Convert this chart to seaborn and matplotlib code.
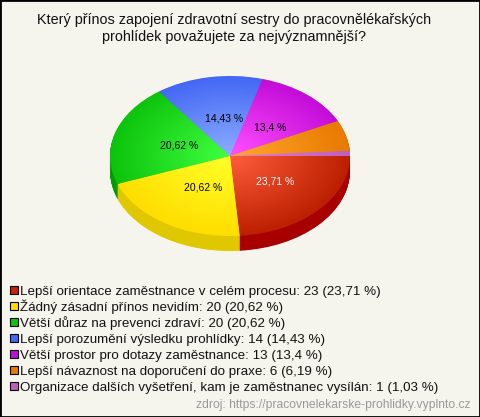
import matplotlib
matplotlib.use('Agg')
import numpy as np
import matplotlib.pyplot as plt
import seaborn as sns
from matplotlib.patches import Rectangle

names = ['Lepší orientace zaměstnance v celém procesu',
         'Žádný zásadní přínos nevidím',
         'Větší důraz na prevenci zdraví',
         'Lepší porozumění výsledku prohlídky',
         'Větší prostor pro dotazy zaměstnance',
         'Lepší návaznost na doporučení do praxe',
         'Organizace dalších vyšetření, kam je zaměstnanec vysílán']
counts = [23, 20, 20, 14, 13, 6, 1]
percents = ['23,71', '20,62', '20,62', '14,43', '13,4', '6,19', '1,03']
pie_labels = ['23,71 %', '20,62 %', '20,62 %', '14,43 %', '13,4 %', '', '']
label_colors = ['white', 'black', 'black', 'black', 'black', 'black', 'black']

title = 'Který přínos zapojení zdravotní sestry do pracovnělékařských\nprohlídek považujete za nejvýznamnější?'
source = 'zdroj: https://pracovnelekarske-prohlidky.vyplnto.cz'

edge_colors = ['#bb2000', '#ffdd00', '#0cc40c', '#4468f4', '#c40cd8', '#e87a00', '#c060bc']
center_colors = ['#ff5c3c', '#ffff28', '#40ff40', '#8cacff', '#ff50ff', '#ffa82c', '#e080dc']
side_colors = ['#a80000', '#e0c800', '#009c00', '#3050c0', '#a000b0', '#c06000', '#a04ca0']
legend_colors = ['#cc2200', '#ffdd00', '#0cc40c', '#4468f4', '#c40cd8', '#e87a00', '#c060bc']

sns.set_theme(style='white')
plt.rcParams['font.family'] = ['Liberation Sans', 'DejaVu Sans']
bg = '#f5f5ee'

fig = plt.figure(figsize=(4.8, 4.17), dpi=100, facecolor=bg)
W, H = 480, 417

# pie is a unit circle squashed by the axes, extra room below for the side
cx, cy, rx, ry, depth = 230, 156, 120, 80, 15
ax = fig.add_axes([(cx - rx) / W, (H - cy - ry - depth) / H, 2 * rx / W, (2 * ry + depth) / H])
ax.set_facecolor('none')

# side of the pie
for off in np.arange(depth, 0, -0.5):
    ax.pie(counts, colors=side_colors, startangle=0, counterclock=False, radius=1,
           center=(0, -off / ry), normalize=True, wedgeprops={'linewidth': 0})

# top with a radial gradient, light in the middle
steps = 40
ramps = [sns.blend_palette([e, c], steps) for e, c in zip(edge_colors, center_colors)]
for i, r in enumerate(np.linspace(1, 0.025, steps)):
    ax.pie(counts, colors=[p[i] for p in ramps], startangle=0, counterclock=False, radius=r,
           wedgeprops={'linewidth': 0})

ax.set_aspect('auto')
ax.set_xlim(-1, 1)
ax.set_ylim(-1 - depth / ry, 1)
ax.axis('off')

# labels in the middle of the slices
angle = 0
for n, lab, col in zip(counts, pie_labels, label_colors):
    mid = np.deg2rad(angle + n / sum(counts) * 180)
    angle += n / sum(counts) * 360
    if lab:
        ax.text(0.03 + 0.47 * np.cos(mid), -0.47 * np.sin(mid), lab, color=col, fontsize=7.5,
                ha='center', va='center')

fig.text(234.5 / W, 1 - 28.5 / H, title, fontsize=10.4, color='#111111', ha='center', va='center',
         linespacing=1.27)

# legend rows by hand, a real legend spaces them unevenly because of the accents
for i, (a, b, c, col) in enumerate(zip(names, counts, percents, legend_colors)):
    y = 290 + 16 * i
    fig.add_artist(Rectangle((10 / W, 1 - (y + 4) / H), 8 / W, 8 / H, transform=fig.transFigure,
                             facecolor=col, edgecolor='black', linewidth=0.8))
    fig.text(20 / W, 1 - (y + 4.5) / H, f'{a}: {b} ({c} %)', fontsize=9.68, color='#111111',
             ha='left', va='baseline')

fig.text(470 / W, 1 - 405 / H, source, fontsize=8.7, color='#999999', ha='right', va='center')

fig.add_artist(Rectangle((0, 0), 1, 1, transform=fig.transFigure, fill=False,
                         edgecolor='black', linewidth=2))

fig.savefig('out.png', dpi=100, facecolor=bg)
